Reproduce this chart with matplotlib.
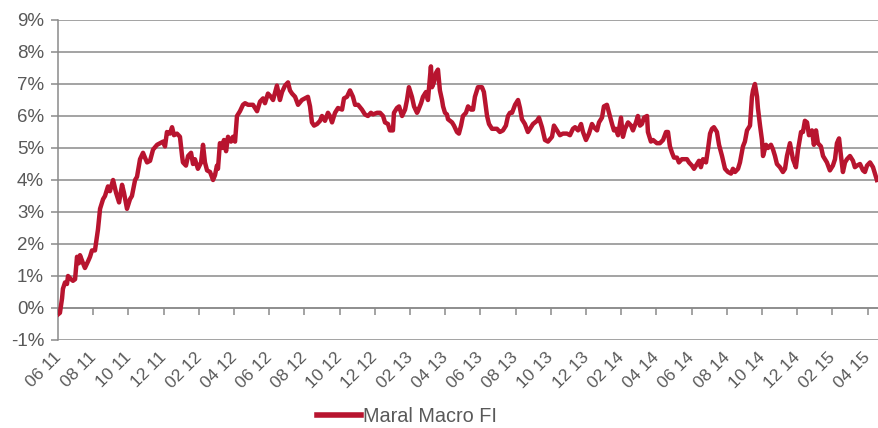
import matplotlib
matplotlib.use('Agg')
import matplotlib.pyplot as plt
import matplotlib.transforms as mtransforms
from matplotlib.ticker import FuncFormatter

plt.rcParams['font.family'] = ['Liberation Sans', 'DejaVu Sans']

# months since start of June 2011
months = [
    0.00, 0.11, 0.23, 0.28, 0.40, 0.51, 0.57, 0.74, 0.85, 0.97,
    1.08, 1.19, 1.25, 1.42, 1.53, 1.70, 1.82, 1.93, 2.10, 2.22,
    2.27, 2.39, 2.56, 2.67, 2.84, 2.95, 3.13, 3.30, 3.47, 3.64,
    3.75, 3.92, 4.09, 4.20, 4.38, 4.49, 4.66, 4.83, 4.94, 5.06,
    5.23, 5.40, 5.63, 5.80, 5.97, 6.08, 6.19, 6.36, 6.48, 6.59,
    6.76, 6.93, 7.05, 7.10, 7.27, 7.39, 7.56, 7.67, 7.78, 7.95,
    8.13, 8.24, 8.35, 8.47, 8.64, 8.81, 8.92, 9.03, 9.09, 9.20,
    9.32, 9.43, 9.55, 9.66, 9.83, 9.94, 10.06, 10.17, 10.34, 10.51,
    10.63, 10.80, 10.91, 11.08, 11.31, 11.48, 11.65, 11.76, 11.93, 12.10,
    12.22, 12.44, 12.61, 12.73, 12.90, 13.07, 13.18, 13.30, 13.47, 13.64,
    13.86, 14.03, 14.20, 14.32, 14.43, 14.55, 14.72, 14.89, 15.00, 15.17,
    15.34, 15.45, 15.57, 15.74, 15.91, 16.14, 16.25, 16.42, 16.59, 16.76,
    16.88, 17.05, 17.27, 17.44, 17.61, 17.78, 17.90, 18.13, 18.30, 18.47,
    18.58, 18.75, 18.86, 19.03, 19.09, 19.26, 19.38, 19.55, 19.72, 19.83,
    19.94, 20.11, 20.23, 20.40, 20.45, 20.63, 20.74, 20.91, 21.02, 21.19,
    21.25, 21.36, 21.48, 21.59, 21.70, 21.82, 21.88, 21.99, 22.10, 22.16,
    22.39, 22.50, 22.67, 22.78, 22.90, 23.01, 23.18, 23.30, 23.47, 23.58,
    23.69, 23.86, 24.09, 24.20, 24.38, 24.49, 24.66, 24.77, 24.94, 25.11,
    25.28, 25.45, 25.57, 25.68, 25.80, 25.97, 26.14, 26.25, 26.36, 26.53,
    26.70, 26.82, 26.99, 27.22, 27.33, 27.50, 27.67, 27.84, 28.07, 28.18,
    28.35, 28.52, 28.69, 28.92, 29.09, 29.26, 29.38, 29.55, 29.72, 29.83,
    30.00, 30.17, 30.34, 30.45, 30.63, 30.74, 30.91, 31.02, 31.19, 31.31,
    31.48, 31.59, 31.70, 31.82, 31.99, 32.10, 32.22, 32.39, 32.56, 32.67,
    32.84, 32.95, 33.07, 33.18, 33.30, 33.47, 33.52, 33.69, 33.81, 34.03,
    34.20, 34.38, 34.55, 34.66, 34.77, 34.89, 35.00, 35.17, 35.28, 35.45,
    35.57, 35.74, 35.85, 36.02, 36.14, 36.31, 36.42, 36.53, 36.65, 36.82,
    36.93, 37.05, 37.16, 37.27, 37.44, 37.56, 37.73, 37.90, 38.07, 38.24,
    38.35, 38.47, 38.64, 38.75, 38.92, 39.03, 39.15, 39.32, 39.43, 39.49,
    39.60, 39.72, 39.77, 39.89, 40.00, 40.06, 40.23, 40.34, 40.51, 40.63,
    40.74, 40.85, 41.02, 41.19, 41.31, 41.42, 41.59, 41.76, 41.93, 42.05,
    42.22, 42.33, 42.44, 42.56, 42.67, 42.84, 42.95, 43.07, 43.18, 43.35,
    43.47, 43.58, 43.69, 43.86, 44.03, 44.15, 44.26, 44.38, 44.49, 44.60,
    44.72, 44.83, 45.00, 45.17, 45.28, 45.40, 45.57, 45.74, 45.85, 45.97,
    46.14, 46.31, 46.42, 46.53,
]

# cumulative return, %
returns = [
    -0.20, -0.15, 0.30, 0.60, 0.80, 0.75, 1.00, 0.90, 0.85, 0.90,
    1.60, 1.40, 1.65, 1.40, 1.25, 1.45, 1.60, 1.80, 1.80, 2.25,
    2.45, 3.10, 3.40, 3.50, 3.80, 3.65, 4.00, 3.60, 3.30, 3.85,
    3.60, 3.10, 3.40, 3.50, 4.00, 4.10, 4.65, 4.85, 4.70, 4.55,
    4.60, 4.95, 5.10, 5.15, 5.20, 5.05, 5.50, 5.45, 5.65, 5.40,
    5.45, 5.35, 4.75, 4.55, 4.45, 4.75, 4.85, 4.50, 4.65, 4.35,
    4.55, 5.10, 4.55, 4.30, 4.25, 4.00, 4.15, 4.45, 4.35, 5.15,
    5.00, 5.25, 4.90, 5.35, 5.20, 5.35, 5.20, 6.00, 6.15, 6.35,
    6.40, 6.35, 6.35, 6.35, 6.15, 6.45, 6.55, 6.40, 6.70, 6.60,
    6.50, 6.95, 6.50, 6.75, 6.95, 7.05, 6.80, 6.70, 6.60, 6.35,
    6.50, 6.55, 6.60, 6.30, 5.80, 5.70, 5.75, 5.85, 6.00, 5.85,
    6.10, 6.00, 5.80, 6.10, 6.25, 6.20, 6.55, 6.60, 6.80, 6.60,
    6.35, 6.35, 6.20, 6.05, 6.00, 6.10, 6.05, 6.10, 6.10, 6.00,
    5.80, 5.75, 5.55, 5.55, 6.10, 6.25, 6.30, 6.00, 6.20, 6.50,
    6.90, 6.60, 6.30, 6.10, 6.15, 6.40, 6.60, 6.75, 6.50, 7.55,
    6.90, 7.05, 7.35, 7.45, 6.80, 6.50, 6.30, 6.10, 6.05, 5.90,
    5.80, 5.70, 5.50, 5.45, 5.70, 6.00, 6.10, 6.30, 6.20, 6.20,
    6.60, 6.90, 6.90, 6.75, 6.00, 5.75, 5.60, 5.60, 5.60, 5.50,
    5.55, 5.70, 6.00, 6.10, 6.10, 6.35, 6.50, 6.25, 5.90, 5.75,
    5.50, 5.60, 5.75, 5.85, 5.95, 5.65, 5.25, 5.20, 5.35, 5.70,
    5.55, 5.40, 5.45, 5.45, 5.40, 5.60, 5.65, 5.55, 5.75, 5.50,
    5.25, 5.45, 5.75, 5.65, 5.55, 5.80, 5.95, 6.30, 6.35, 6.10,
    5.75, 5.55, 5.60, 5.40, 5.95, 5.35, 5.60, 5.80, 5.70, 5.55,
    5.80, 6.00, 5.70, 5.75, 5.95, 6.00, 5.50, 5.20, 5.25, 5.15,
    5.15, 5.25, 5.50, 5.50, 5.05, 4.85, 4.70, 4.70, 4.55, 4.65,
    4.65, 4.65, 4.55, 4.45, 4.35, 4.50, 4.60, 4.40, 4.65, 4.55,
    4.95, 5.45, 5.60, 5.65, 5.50, 5.10, 4.75, 4.35, 4.25, 4.20,
    4.35, 4.25, 4.35, 4.55, 5.05, 5.20, 5.55, 5.70, 6.60, 6.80,
    7.00, 6.60, 6.25, 5.70, 5.25, 4.75, 5.10, 5.00, 5.10, 4.95,
    4.75, 4.50, 4.40, 4.25, 4.35, 4.75, 5.15, 4.65, 4.40, 4.95,
    5.50, 5.50, 5.85, 5.80, 5.40, 5.55, 5.10, 5.55, 5.15, 5.05,
    4.75, 4.65, 4.55, 4.30, 4.45, 4.65, 5.15, 5.30, 4.75, 4.25,
    4.55, 4.65, 4.75, 4.60, 4.40, 4.45, 4.50, 4.30, 4.25, 4.45,
    4.55, 4.40, 4.20, 4.00,
]

tick_labels = ['06 11', '08 11', '10 11', '12 11', '02 12', '04 12', '06 12', '08 12',
               '10 12', '12 12', '02 13', '04 13', '06 13', '08 13', '10 13', '12 13',
               '02 14', '04 14', '06 14', '08 14', '10 14', '12 14', '02 15', '04 15']
series_name = 'Maral Macro FI'

grey = '#8a8a8a'
text_grey = '#595959'
red = '#b8142f'

fig = plt.figure(figsize=(8.79, 4.28), dpi=100)
ax = fig.add_axes([58 / 879, 1 - 340 / 428, 821 / 879, 320 / 428])

ax.plot(months, returns, color=red, linewidth=3.2, solid_joinstyle='round', label=series_name, zorder=3)

ax.set_xlim(0, 46.65)
ax.set_ylim(-1, 9)
ax.set_yticks(range(-1, 10))
ax.yaxis.set_major_formatter(FuncFormatter(lambda v, p: f'{v:.0f}%'))
ax.grid(axis='y', color=grey, linewidth=1.1)
ax.set_axisbelow(True)

for s in ['top', 'right']:
    ax.spines[s].set_visible(False)
ax.spines['left'].set_color(grey)
ax.spines['left'].set_linewidth(1.1)
ax.spines['bottom'].set_position(('data', 0))
ax.spines['bottom'].set_color(grey)
ax.spines['bottom'].set_linewidth(1.1)

ax.tick_params(axis='y', length=5, color=grey, width=1.1, labelsize=13.5, labelcolor=text_grey, pad=5)
tick_pos = [2 * i for i in range(len(tick_labels))]
ax.set_xticks(tick_pos)
ax.set_xticklabels([])
ax.tick_params(axis='x', length=5, color=grey, width=1.1, direction='out')

# rotated date labels sit below the plot, not on the 0% line
trans = mtransforms.blended_transform_factory(ax.transData, ax.transAxes)
for pos, lab in zip(tick_pos, tick_labels):
    ax.text(pos - 0.28, -0.03, lab, transform=trans, rotation=45, rotation_mode='anchor',
            ha='right', va='top', fontsize=12.5, color=text_grey)

leg = fig.legend(loc='lower center', bbox_to_anchor=(0.463, -0.038), frameon=False, fontsize=14.3,
                 handlelength=2.2, labelcolor=text_grey, handletextpad=0.1)
for h in leg.legend_handles:
    h.set_linewidth(4)

fig.savefig('out.png', dpi=100)
